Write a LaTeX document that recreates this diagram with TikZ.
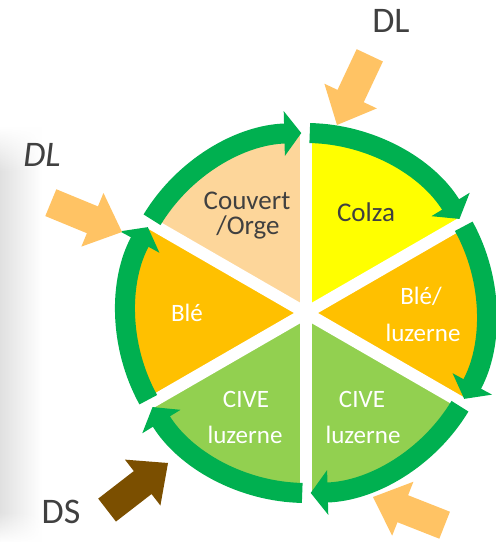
\documentclass[tikz,border=0pt]{standalone}
\usepackage{fontspec}
\setmainfont{Carlito}
\usetikzlibrary{arrows.meta,calc,fadings}
\definecolor{ringgreen}{HTML}{00B050}
\definecolor{peach}{HTML}{FDD69A}
\definecolor{colzayellow}{HTML}{FFFF00}
\definecolor{wheatorange}{HTML}{FFC000}
\definecolor{civegreen}{HTML}{92D050}
\definecolor{dlorange}{HTML}{FFC364}
\definecolor{dsbrown}{HTML}{7B4F00}
\definecolor{txtgray}{HTML}{404040}
\newcommand{\blockarr}[4]{%
  \fill[#4, shift={(#1,#2)}, rotate=#3]
    (0,0) -- (-32,29) -- (-32,14.5) -- (-77,14.5) -- (-77,-14.5)
    -- (-32,-14.5) -- (-32,-29) -- cycle;}
\begin{document}
\begin{tikzpicture}[x=1pt,y=1pt,
  ringarc/.style={draw=ringgreen, line width=20pt, -{Triangle[width=44pt,length=17pt]}},
  gapline/.style={draw=white, line width=12pt},
  darktext/.style={text=txtgray, font=\fontsize{27}{30}\selectfont, anchor=base, inner sep=0pt},
  lighttext/.style={text=white, font=\fontsize{25}{30}\selectfont, anchor=base, inner sep=0pt},
  bigtext/.style={text=txtgray, font=\fontsize{36}{40}\selectfont, anchor=base, inner sep=0pt}]
\useasboundingbox (0,0) rectangle (496,542);
% left shadow strip
\shade[left color=black!12, right color=white] (0,0) rectangle (42,414);
\fill[white, path fading=south] (0,370) rectangle (42,415);
\fill[white, path fading=north] (0,-1) rectangle (42,30);
\coordinate (C) at (306,229);
% sectors
\fill[peach] (C) -- ++(90:180) arc[start angle=90, end angle=150, radius=180] -- cycle;
\fill[colzayellow] (C) -- ++(30:180) arc[start angle=30, end angle=90, radius=180] -- cycle;
\fill[wheatorange] (C) -- ++(-30:180) arc[start angle=-30, end angle=30, radius=180] -- cycle;
\fill[civegreen] (C) -- ++(-90:180) arc[start angle=-90, end angle=-30, radius=180] -- cycle;
\fill[civegreen] (C) -- ++(-150:180) arc[start angle=-150, end angle=-90, radius=180] -- cycle;
\fill[wheatorange] (C) -- ++(150:180) arc[start angle=150, end angle=210, radius=180] -- cycle;
% gaps
\foreach \b in {150,90,30,-30,-90,-150}
  \draw[gapline] (C) -- ($(C)+(\b:205)$);
% ring arcs
\foreach \b [evaluate=\b as \s using \b-1.2, evaluate=\b as \e using \b-58.5] in {150,90,30,-30,-90,-150}
  \draw[ringarc] ($(C)+(\s:180)$) arc[start angle=\s, end angle=\e, radius=180];
% block arrows
\blockarr{337}{417}{244.8}{dlorange}
\blockarr{122}{310}{-22.4}{dlorange}
\blockarr{373}{45}{158.5}{dlorange}
\blockarr{168}{79}{37.7}{dsbrown}
% labels
\node[bigtext] (dltop) at (391,509) {DL};
\node[bigtext, font=\fontsize{36}{40}\selectfont\itshape] (dlleft) at (42,375) {DL};
\node[bigtext] (ds) at (61,19) {DS};
\node[darktext] (couvA) at (247,332) {Couvert};
\node[darktext] (couvB) at (248,307) {/Orge};
\node[darktext] (colza) at (366,320) {Colza};
\node[lighttext] (ble) at (187,220) {Blé};
\node[lighttext] (bleA) at (421,237) {Blé/};
\node[lighttext] (bleB) at (423,200) {luzerne};
\node[lighttext] (civeLA) at (246,134) {CIVE};
\node[lighttext] (civeLB) at (245,99) {luzerne};
\node[lighttext] (civeRA) at (362,134) {CIVE};
\node[lighttext] (civeRB) at (363,99) {luzerne};
\end{tikzpicture}
\end{document}
